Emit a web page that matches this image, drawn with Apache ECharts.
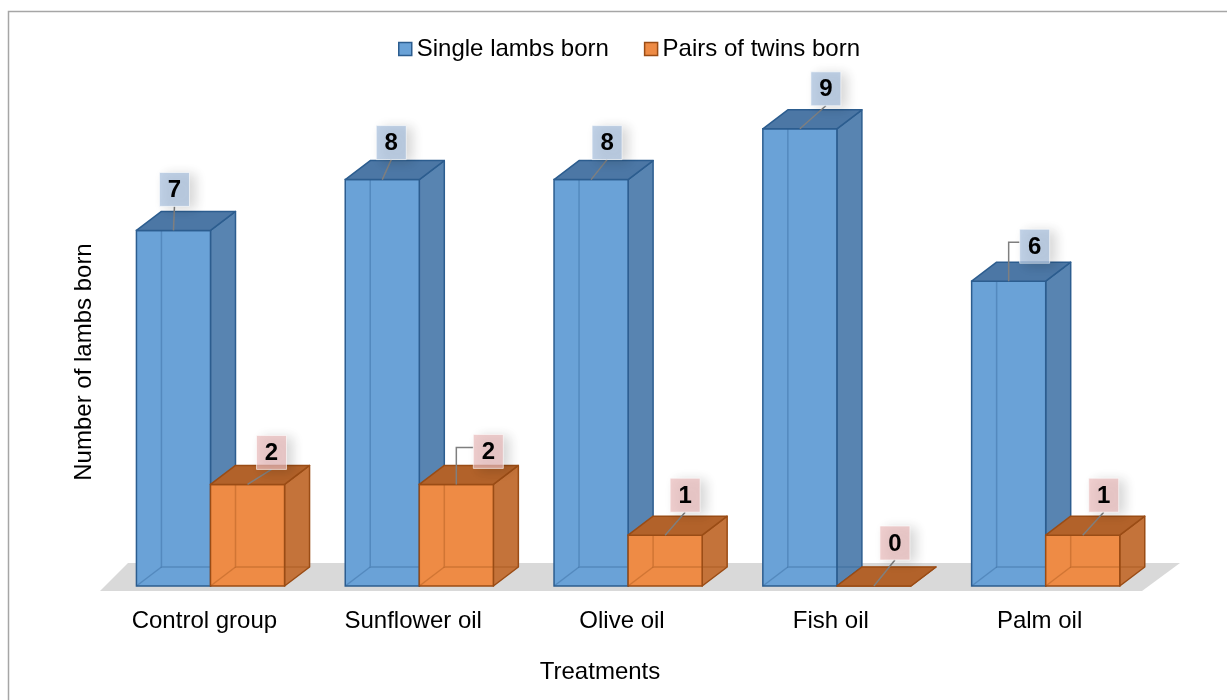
<!DOCTYPE html>
<html>
<head>
<meta charset="utf-8">
<script src="https://cdn.jsdelivr.net/npm/echarts@6/dist/echarts.min.js"></script>
<style>
  html, body { margin: 0; padding: 0; background: #fff; }
  #chart { width: 1227px; height: 700px; }
</style>
</head>
<body>
<div id="chart"></div>
<script>
// Lambing results per feeding treatment
const categories = ['Control group', 'Sunflower oil', 'Olive oil', 'Fish oil', 'Palm oil'];
const singleLambs = [7, 8, 8, 9, 6];
const twinPairs = [2, 2, 1, 0, 1];
const seriesNames = ['Single lambs born', 'Pairs of twins born'];

// Callout placement for each value tag: [dx, dy, elbow] measured from the
// top-front centre of its box; elbow = 1 draws a bent leader line.
const singleCallouts = [[1, -41, 0], [9, -37, 0], [16, -37, 0], [26, -40, 0], [26, -35, 1]];
const twinCallouts = [[24, -32, 0], [32, -33, 1], [20, -40, 0], [21, -43, 0], [21, -40, 0]];

const FONT = '"Liberation Sans", Arial, Helvetica, sans-serif';
const DEPTH_X = 25, DEPTH_Y = 19;

const bluePalette = {
  front: '#6aa2d7', side: '#5884b1', top: '#4c77a5', edge: '#2c5d8f',
  inner: 'rgba(44,93,143,0.35)', tag: 'rgba(169,192,222,0.72)'
};
const orangePalette = {
  front: '#ee8b45', side: '#c4733a', top: '#b2622a', edge: '#9a4c15',
  inner: 'rgba(154,76,21,0.35)', tag: 'rgba(234,188,188,0.72)'
};

// Draws one translucent-looking 3D box plus its value tag.
function makeBarRenderer(slot, palette, callouts) {
  return function (params, api) {
    const cat = api.value(0);
    const val = api.value(1);
    const base = api.coord([cat, 0]);
    const topPt = api.coord([cat, val]);
    const band = api.size([1, 0])[0];
    const w = band * 0.3547;
    const x0 = base[0] - band * 0.3255 + slot * w;
    const x1 = x0 + w;
    const yb = base[1];
    const yt = topPt[1];
    const dx = DEPTH_X, dy = DEPTH_Y;
    const children = [];

    // right side face
    children.push({
      type: 'polygon',
      shape: { points: [[x1, yb], [x1 + dx, yb - dy], [x1 + dx, yt - dy], [x1, yt]] },
      style: { fill: palette.side, stroke: palette.edge, lineWidth: 1.5, lineJoin: 'round' }
    });
    // front face
    children.push({
      type: 'rect',
      shape: { x: x0, y: yt, width: w, height: yb - yt },
      style: { fill: palette.front, stroke: palette.edge, lineWidth: 1.5 }
    });
    // back edges seen through the faces
    children.push({
      type: 'polyline',
      shape: { points: [[x0 + dx, yt], [x0 + dx, yb - dy], [x1 + dx, yb - dy]] },
      style: { stroke: palette.inner, lineWidth: 1.5, fill: null }
    });
    children.push({
      type: 'line',
      shape: { x1: x0, y1: yb, x2: x0 + dx, y2: yb - dy },
      style: { stroke: palette.inner, lineWidth: 1.5 }
    });
    // top face
    children.push({
      type: 'polygon',
      shape: { points: [[x0, yt], [x0 + dx, yt - dy], [x1 + dx, yt - dy], [x1, yt]] },
      style: { fill: palette.top, stroke: palette.edge, lineWidth: 1.5, lineJoin: 'round' }
    });

    // value tag with leader line
    const c = callouts[params.dataIndex];
    const ax = (x0 + x1) / 2, ay = yt;
    const bw = 30, bh = 34;
    const bx = ax + c[0] - bw / 2;
    const by = ay + c[1] - bh / 2;
    const pts = c[2]
      ? [[bx, by + bh / 2 - 4], [ax, by + bh / 2 - 4], [ax, ay]]
      : [[bx + bw / 2, by + bh], [ax, ay]];
    children.push({
      type: 'polyline',
      shape: { points: pts },
      style: { stroke: '#7f7f7f', lineWidth: 1.5, fill: null }
    });
    children.push({
      type: 'rect',
      shape: { x: bx, y: by, width: bw, height: bh },
      style: {
        fill: palette.tag, stroke: 'rgba(255,255,255,0.6)', lineWidth: 1,
        shadowBlur: 12, shadowOffsetX: 6, shadowOffsetY: 2,
        shadowColor: 'rgba(0,0,0,0.22)'
      }
    });
    children.push({
      type: 'text',
      style: {
        text: String(val), x: bx + bw / 2, y: by + bh / 2 + 1,
        align: 'center', verticalAlign: 'middle',
        fontSize: 24, fontWeight: 'bold', fontFamily: FONT, fill: '#000'
      }
    });
    return { type: 'group', children: children };
  };
}

// Grey floor plane under the boxes, derived from the plotting area.
function renderFloor(params, api) {
  const cs = params.coordSys;
  const yb = api.coord([0, 0])[1];
  const left = cs.x, right = cs.x + cs.width - 2;
  return {
    type: 'polygon',
    shape: {
      points: [[left, yb + 5], [right, yb + 5], [right + 38, yb - 23], [left + 28, yb - 23]]
    },
    style: { fill: '#d9d9d9' }
  };
}

const chart = echarts.init(document.getElementById('chart'), null, { renderer: 'canvas' });

chart.setOption({
  animation: false,
  backgroundColor: '#fff',
  textStyle: { fontFamily: FONT },
  graphic: [
    {
      type: 'rect', z: 0, silent: true,
      shape: { x: 8.5, y: 11.5, width: 1400, height: 900 },
      style: { fill: null, stroke: '#a6a6a6', lineWidth: 1.5 }
    },
    {
      type: 'text', x: 84, y: 362, rotation: Math.PI / 2,
      style: {
        text: 'Number of lambs born', align: 'center', verticalAlign: 'middle',
        fontSize: 24, fontFamily: FONT, fill: '#000'
      }
    },
    {
      type: 'text', x: 600, y: 672,
      style: {
        text: 'Treatments', align: 'center', verticalAlign: 'middle',
        fontSize: 24, fontFamily: FONT, fill: '#000'
      }
    }
  ],
  legend: {
    left: 393, top: 32,
    itemWidth: 13, itemHeight: 13, itemGap: 35,
    textStyle: { fontSize: 24, color: '#000', fontFamily: FONT },
    data: [
      { name: seriesNames[0], icon: 'rect', itemStyle: { color: bluePalette.front, borderColor: bluePalette.edge, borderWidth: 1.5 } },
      { name: seriesNames[1], icon: 'rect', itemStyle: { color: orangePalette.front, borderColor: orangePalette.edge, borderWidth: 1.5 } }
    ]
  },
  grid: { left: 100, right: 83, top: 78, bottom: 114, containLabel: false, outerBoundsMode: 'none' },
  xAxis: {
    type: 'category',
    data: categories,
    axisLine: { show: false },
    axisTick: { show: false },
    axisLabel: { fontSize: 24, color: '#000', margin: 23, fontFamily: FONT },
    splitLine: { show: false }
  },
  yAxis: {
    type: 'value', min: 0, max: 10, show: false
  },
  series: [
    {
      type: 'custom', silent: true, z: 1,
      data: [[0, 0]],
      renderItem: renderFloor
    },
    {
      name: seriesNames[0], type: 'custom', z: 2,
      itemStyle: { color: bluePalette.front },
      data: singleLambs.map((v, i) => [i, v]),
      renderItem: makeBarRenderer(0, bluePalette, singleCallouts)
    },
    {
      name: seriesNames[1], type: 'custom', z: 3,
      itemStyle: { color: orangePalette.front },
      data: twinPairs.map((v, i) => [i, v]),
      renderItem: makeBarRenderer(1, orangePalette, twinCallouts)
    }
  ]
});
</script>
</body>
</html>
